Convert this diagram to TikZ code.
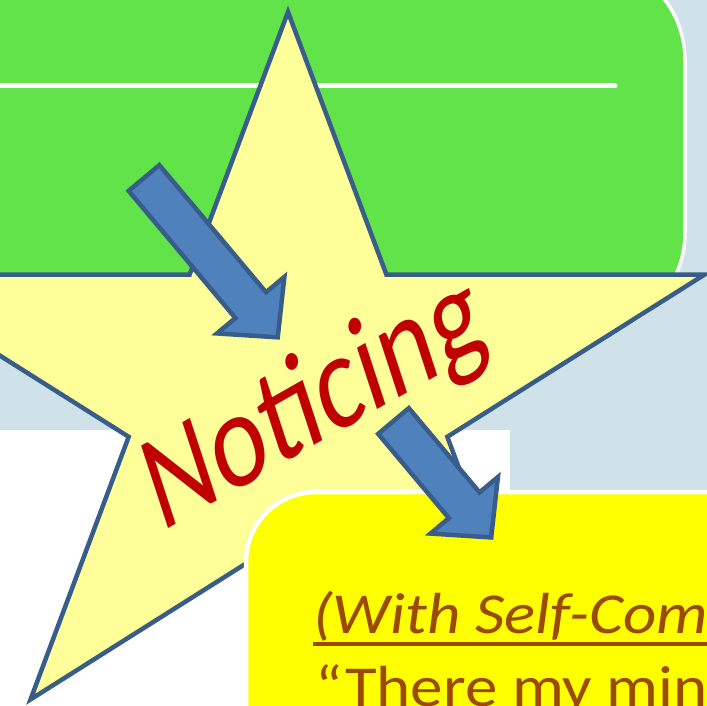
\documentclass[tikz,border=0pt]{standalone}
\usepackage{fontspec}
\setmainfont{Carlito}
\definecolor{paleblue}{RGB}{207,225,233}
\definecolor{leafgreen}{RGB}{98,227,74}
\definecolor{starfill}{RGB}{255,255,153}
\definecolor{starline}{RGB}{56,93,138}
\definecolor{arrowfill}{RGB}{79,129,189}
\definecolor{notered}{RGB}{192,0,0}
\definecolor{notebrown}{RGB}{156,74,0}
\definecolor{noteyellow}{RGB}{255,255,0}
\begin{document}
\begin{tikzpicture}[x=1pt, y=1pt,
		outline/.style={draw=starline, line width=4.5pt, line join=miter},
		boxtext/.style={text=notebrown, inner sep=0pt, anchor=base west, xscale=1.12, font=\fontsize{58}{58}\selectfont}]
	\useasboundingbox (0,0) rectangle (707,705);
	\clip (0,0) rectangle (707,705);
	\fill[white] (0,0) rectangle (707,705);
	\fill[paleblue] (0,275) rectangle (707,705);
	\fill[paleblue] (510,200) rectangle (707,276);
	\draw[fill=leafgreen, draw=white, line width=3.5pt, rounded corners=100pt] (-40,372) rectangle (685,745);
	\draw[white, line width=5pt, line cap=round] (-5,619) -- (615,619);
	\draw[outline, fill=starfill, shift={(288,313)}] (90:438 and 380)
		\foreach \a in {126,198,270,342} { -- (\a:167.5 and 145) -- (\a+36:438 and 380) } -- (54:167.5 and 145) -- cycle;
	\draw[fill=noteyellow, draw=white, line width=4.5pt, rounded corners=70pt] (246,213) rectangle (820,-80);
	\node[boxtext, font=\fontsize{58}{58}\selectfont\itshape] (selfcomp) at (313,72) {(With Self-Compassion)};
	\draw[notebrown, line width=3.5pt] ([yshift=-11pt]selfcomp.base west) -- ([yshift=-11pt]selfcomp.base east);
	\node[boxtext] (thought) at (315,-1) {“There my mind};
	\node[text=notered, inner sep=0pt, anchor=base west, cm={0.918,0.522,-0.396,1.212,(0,0)},
		font=\fontsize{106}{106}\selectfont] (noticing) at (161,172) {Noticing};
	\foreach \tx/\ty/\len in {144/527/208, 393.5/284/152} {
		\draw[outline, fill=arrowfill, shift={(\tx,\ty)}, rotate=-50]
			(0,-20) -- (\len-42,-20) -- (\len-42,-44) -- (\len,0) -- (\len-42,44) -- (\len-42,20) -- (0,20) -- cycle;
	}
\end{tikzpicture}
\end{document}
